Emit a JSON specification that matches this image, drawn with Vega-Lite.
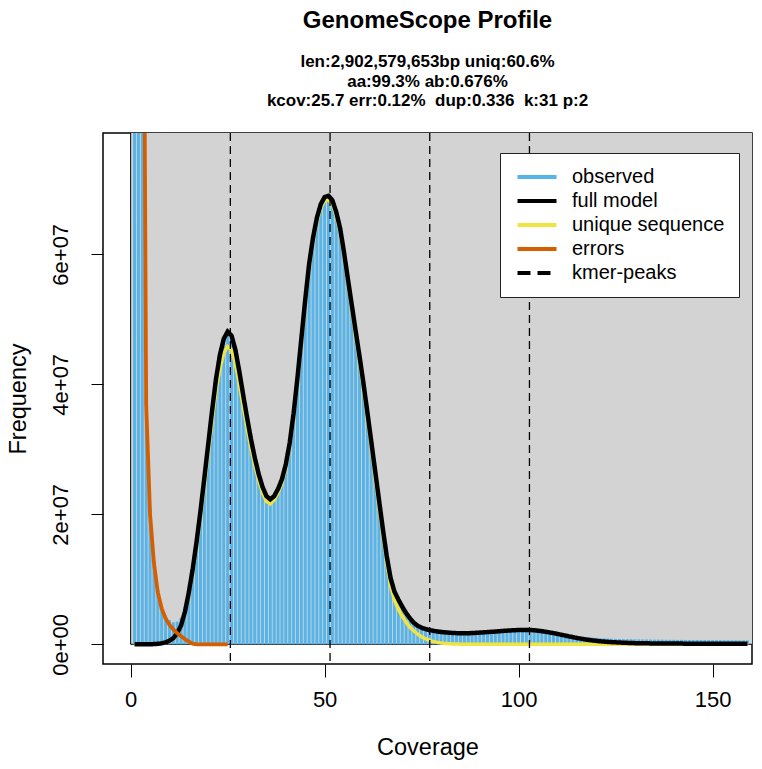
{
  "$schema": "https://vega.github.io/schema/vega-lite/v6.json",
  "width": 649,
  "height": 531,
  "autosize": {"type": "none"},
  "padding": {"left": 103, "top": 133, "right": 10, "bottom": 105},
  "background": "white",
  "config": {
    "font": "Liberation Sans",
    "view": {"stroke": "black", "strokeWidth": 1.5}
  },
  "title": {
    "text": "GenomeScope Profile",
    "subtitle": ["len:2,902,579,653bp uniq:60.6%", "aa:99.3% ab:0.676%", "kcov:25.7 err:0.12%\u00a0 dup:0.336\u00a0 k:31 p:2"],
    "anchor": "middle",
    "font": "Liberation Sans",
    "fontSize": 24,
    "fontWeight": "bold",
    "color": "black",
    "subtitleFont": "Liberation Sans",
    "subtitleFontSize": 17,
    "subtitleFontWeight": "bold",
    "subtitleColor": "black",
    "subtitleLineHeight": 19.5,
    "subtitlePadding": 21,
    "offset": 23
  },
  "datasets": {
    "kmers": [
      {"x": 1, "observed": 1500e6, "full model": 0, "unique sequence": 0, "errors": 1200e6},
      {"x": 2, "observed": 700e6, "full model": 0, "unique sequence": 0, "errors": 600e6},
      {"x": 3, "observed": 160e6, "full model": 0, "unique sequence": 0, "errors": 151e6},
      {"x": 4, "observed": 38e6, "full model": 0.005e6, "unique sequence": 0.005e6, "errors": 37e6},
      {"x": 5, "observed": 21e6, "full model": 0.01e6, "unique sequence": 0.01e6, "errors": 20e6},
      {"x": 6, "observed": 13e6, "full model": 0.03e6, "unique sequence": 0.03e6, "errors": 12.5e6},
      {"x": 7, "observed": 8.3e6, "full model": 0.07e6, "unique sequence": 0.07e6, "errors": 8e6},
      {"x": 8, "observed": 5.7e6, "full model": 0.15e6, "unique sequence": 0.14e6, "errors": 5.5e6},
      {"x": 9, "observed": 4.4e6, "full model": 0.3e6, "unique sequence": 0.28e6, "errors": 4e6},
      {"x": 10, "observed": 3.7e6, "full model": 0.55e6, "unique sequence": 0.53e6, "errors": 3e6},
      {"x": 11, "observed": 3.4e6, "full model": 0.95e6, "unique sequence": 0.9e6, "errors": 2.3e6},
      {"x": 12, "observed": 3.5e6, "full model": 1.7e6, "unique sequence": 1.6e6, "errors": 1.7e6},
      {"x": 13, "observed": 4.1e6, "full model": 2.9e6, "unique sequence": 2.75e6, "errors": 1.25e6},
      {"x": 14, "observed": 5.8e6, "full model": 5.0e6, "unique sequence": 4.7e6, "errors": 0.8e6},
      {"x": 15, "observed": 8.5e6, "full model": 8.0e6, "unique sequence": 7.6e6, "errors": 0.4e6},
      {"x": 16, "observed": 11.8e6, "full model": 11.6e6, "unique sequence": 11.0e6, "errors": 0.08e6},
      {"x": 17, "observed": 15.9e6, "full model": 15.8e6, "unique sequence": 15.0e6, "errors": 0},
      {"x": 18, "observed": 20.6e6, "full model": 20.5e6, "unique sequence": 19.5e6, "errors": 0},
      {"x": 19, "observed": 25.5e6, "full model": 25.6e6, "unique sequence": 24.4e6, "errors": 0},
      {"x": 20, "observed": 30.7e6, "full model": 30.8e6, "unique sequence": 29.4e6, "errors": 0},
      {"x": 21, "observed": 36.1e6, "full model": 36.0e6, "unique sequence": 34.4e6, "errors": 0},
      {"x": 22, "observed": 40.9e6, "full model": 40.8e6, "unique sequence": 39.0e6, "errors": 0},
      {"x": 23, "observed": 44.4e6, "full model": 44.5e6, "unique sequence": 42.4e6, "errors": 0},
      {"x": 24, "observed": 47.1e6, "full model": 47.0e6, "unique sequence": 44.8e6, "errors": 0},
      {"x": 25, "observed": 48.0e6, "full model": 48.1e6, "unique sequence": 45.8e6, "errors": 0},
      {"x": 26, "observed": 47.6e6, "full model": 47.5e6, "unique sequence": 45.3e6},
      {"x": 27, "observed": 45.2e6, "full model": 45.3e6, "unique sequence": 43.2e6},
      {"x": 28, "observed": 42.1e6, "full model": 42.0e6, "unique sequence": 40.0e6},
      {"x": 29, "observed": 38.3e6, "full model": 38.4e6, "unique sequence": 36.6e6},
      {"x": 30, "observed": 35.0e6, "full model": 34.9e6, "unique sequence": 33.3e6},
      {"x": 31, "observed": 31.5e6, "full model": 31.6e6, "unique sequence": 30.2e6},
      {"x": 32, "observed": 28.8e6, "full model": 28.7e6, "unique sequence": 27.5e6},
      {"x": 33, "observed": 26.1e6, "full model": 26.2e6, "unique sequence": 25.2e6},
      {"x": 34, "observed": 24.3e6, "full model": 24.2e6, "unique sequence": 23.3e6},
      {"x": 35, "observed": 22.7e6, "full model": 22.8e6, "unique sequence": 22.0e6},
      {"x": 36, "observed": 22.4e6, "full model": 22.3e6, "unique sequence": 21.6e6},
      {"x": 37, "observed": 22.7e6, "full model": 22.8e6, "unique sequence": 22.2e6},
      {"x": 38, "observed": 24.0e6, "full model": 23.9e6, "unique sequence": 23.3e6},
      {"x": 39, "observed": 25.3e6, "full model": 25.4e6, "unique sequence": 24.8e6},
      {"x": 40, "observed": 27.8e6, "full model": 27.7e6, "unique sequence": 27.1e6},
      {"x": 41, "observed": 30.9e6, "full model": 31.0e6, "unique sequence": 30.4e6},
      {"x": 42, "observed": 35.6e6, "full model": 35.5e6, "unique sequence": 34.9e6},
      {"x": 43, "observed": 40.9e6, "full model": 41.0e6, "unique sequence": 40.4e6},
      {"x": 44, "observed": 47.1e6, "full model": 47.0e6, "unique sequence": 46.4e6},
      {"x": 45, "observed": 52.9e6, "full model": 53.0e6, "unique sequence": 52.4e6},
      {"x": 46, "observed": 58.6e6, "full model": 58.5e6, "unique sequence": 57.9e6},
      {"x": 47, "observed": 62.4e6, "full model": 62.5e6, "unique sequence": 61.9e6},
      {"x": 48, "observed": 65.7e6, "full model": 65.6e6, "unique sequence": 65.0e6},
      {"x": 49, "observed": 67.6e6, "full model": 67.7e6, "unique sequence": 67.1e6},
      {"x": 50, "observed": 68.9e6, "full model": 68.8e6, "unique sequence": 68.2e6},
      {"x": 51, "observed": 68.9e6, "full model": 69.0e6, "unique sequence": 68.4e6},
      {"x": 52, "observed": 68.4e6, "full model": 68.3e6, "unique sequence": 67.7e6},
      {"x": 53, "observed": 66.4e6, "full model": 66.5e6, "unique sequence": 65.9e6},
      {"x": 54, "observed": 64.1e6, "full model": 64.0e6, "unique sequence": 63.4e6},
      {"x": 55, "observed": 60.2e6, "full model": 60.3e6, "unique sequence": 59.7e6},
      {"x": 56, "observed": 56.3e6, "full model": 56.2e6, "unique sequence": 55.6e6},
      {"x": 57, "observed": 52.1e6, "full model": 52.2e6, "unique sequence": 51.5e6},
      {"x": 58, "observed": 48.3e6, "full model": 48.2e6, "unique sequence": 47.4e6},
      {"x": 59, "observed": 44.2e6, "full model": 44.3e6, "unique sequence": 43.5e6},
      {"x": 60, "observed": 40.3e6, "full model": 40.2e6, "unique sequence": 39.3e6},
      {"x": 61, "observed": 35.7e6, "full model": 35.8e6, "unique sequence": 34.9e6},
      {"x": 62, "observed": 31.4e6, "full model": 31.3e6, "unique sequence": 30.4e6},
      {"x": 63, "observed": 26.7e6, "full model": 26.8e6, "unique sequence": 25.8e6},
      {"x": 64, "observed": 22.4e6, "full model": 22.3e6, "unique sequence": 21.3e6},
      {"x": 65, "observed": 17.7e6, "full model": 17.8e6, "unique sequence": 16.8e6},
      {"x": 66, "observed": 13.7e6, "full model": 13.6e6, "unique sequence": 12.6e6},
      {"x": 67, "observed": 10.1e6, "full model": 10.2e6, "unique sequence": 9.0e6},
      {"x": 68, "observed": 8.2e6, "full model": 8.1e6, "unique sequence": 6.8e6},
      {"x": 69, "observed": 6.8e6, "full model": 6.9e6, "unique sequence": 5.4e6},
      {"x": 70, "observed": 5.9e6, "full model": 5.8e6, "unique sequence": 4.3e6},
      {"x": 71, "observed": 4.7e6, "full model": 4.8e6, "unique sequence": 3.4e6},
      {"x": 72, "observed": 4.1e6, "full model": 4.0e6, "unique sequence": 2.6e6},
      {"x": 73, "observed": 3.3e6, "full model": 3.3e6, "unique sequence": 2.05e6},
      {"x": 74, "observed": 2.9e6, "full model": 2.85e6, "unique sequence": 1.55e6},
      {"x": 75, "observed": 2.6e6, "full model": 2.55e6, "unique sequence": 1.15e6},
      {"x": 76, "observed": 2.4e6, "full model": 2.35e6, "unique sequence": 0.85e6},
      {"x": 77, "observed": 2.3e6, "full model": 2.2e6, "unique sequence": 0.62e6},
      {"x": 78, "observed": 2.2e6, "full model": 2.08e6, "unique sequence": 0.44e6},
      {"x": 79, "observed": 2.1e6, "full model": 1.98e6, "unique sequence": 0.3e6},
      {"x": 80, "observed": 2.0e6, "full model": 1.9e6, "unique sequence": 0.2e6},
      {"x": 81, "observed": 1.95e6, "full model": 1.84e6, "unique sequence": 0.14e6},
      {"x": 82, "observed": 1.9e6, "full model": 1.79e6, "unique sequence": 0.09e6},
      {"x": 83, "observed": 1.85e6, "full model": 1.75e6, "unique sequence": 0.06e6},
      {"x": 84, "observed": 1.82e6, "full model": 1.72e6, "unique sequence": 0.04e6},
      {"x": 85, "observed": 1.8e6, "full model": 1.7e6, "unique sequence": 0.025e6},
      {"x": 86, "observed": 1.8e6, "full model": 1.7e6, "unique sequence": 0.015e6},
      {"x": 87, "observed": 1.8e6, "full model": 1.71e6, "unique sequence": 0.01e6},
      {"x": 88, "observed": 1.82e6, "full model": 1.73e6, "unique sequence": 0.005e6},
      {"x": 89, "observed": 1.83e6, "full model": 1.76e6, "unique sequence": 0},
      {"x": 90, "observed": 1.86e6, "full model": 1.8e6, "unique sequence": 0},
      {"x": 91, "observed": 1.88e6, "full model": 1.84e6, "unique sequence": 0},
      {"x": 92, "observed": 1.9e6, "full model": 1.88e6, "unique sequence": 0},
      {"x": 93, "observed": 1.93e6, "full model": 1.92e6, "unique sequence": 0},
      {"x": 94, "observed": 1.96e6, "full model": 1.96e6, "unique sequence": 0},
      {"x": 95, "observed": 1.99e6, "full model": 2.01e6, "unique sequence": 0},
      {"x": 96, "observed": 2.02e6, "full model": 2.06e6, "unique sequence": 0},
      {"x": 97, "observed": 2.05e6, "full model": 2.1e6, "unique sequence": 0},
      {"x": 98, "observed": 2.07e6, "full model": 2.14e6, "unique sequence": 0},
      {"x": 99, "observed": 2.08e6, "full model": 2.17e6, "unique sequence": 0},
      {"x": 100, "observed": 2.1e6, "full model": 2.2e6, "unique sequence": 0},
      {"x": 101, "observed": 2.1e6, "full model": 2.21e6, "unique sequence": 0},
      {"x": 102, "observed": 2.1e6, "full model": 2.22e6, "unique sequence": 0},
      {"x": 103, "observed": 2.08e6, "full model": 2.2e6, "unique sequence": 0},
      {"x": 104, "observed": 2.05e6, "full model": 2.16e6, "unique sequence": 0},
      {"x": 105, "observed": 2.0e6, "full model": 2.1e6, "unique sequence": 0},
      {"x": 106, "observed": 1.95e6, "full model": 2.02e6, "unique sequence": 0},
      {"x": 107, "observed": 1.88e6, "full model": 1.93e6, "unique sequence": 0},
      {"x": 108, "observed": 1.81e6, "full model": 1.83e6, "unique sequence": 0},
      {"x": 109, "observed": 1.74e6, "full model": 1.72e6, "unique sequence": 0},
      {"x": 110, "observed": 1.66e6, "full model": 1.6e6, "unique sequence": 0},
      {"x": 111, "observed": 1.58e6, "full model": 1.47e6, "unique sequence": 0},
      {"x": 112, "observed": 1.5e6, "full model": 1.35e6, "unique sequence": 0},
      {"x": 113, "observed": 1.42e6, "full model": 1.22e6, "unique sequence": 0},
      {"x": 114, "observed": 1.34e6, "full model": 1.1e6, "unique sequence": 0},
      {"x": 115, "observed": 1.27e6, "full model": 0.98e6, "unique sequence": 0},
      {"x": 116, "observed": 1.2e6, "full model": 0.87e6, "unique sequence": 0},
      {"x": 117, "observed": 1.14e6, "full model": 0.77e6, "unique sequence": 0},
      {"x": 118, "observed": 1.08e6, "full model": 0.68e6, "unique sequence": 0},
      {"x": 119, "observed": 1.03e6, "full model": 0.6e6, "unique sequence": 0},
      {"x": 120, "observed": 0.99e6, "full model": 0.53e6, "unique sequence": 0},
      {"x": 121, "observed": 0.95e6, "full model": 0.47e6, "unique sequence": 0},
      {"x": 122, "observed": 0.92e6, "full model": 0.42e6, "unique sequence": 0},
      {"x": 123, "observed": 0.89e6, "full model": 0.37e6, "unique sequence": 0},
      {"x": 124, "observed": 0.86e6, "full model": 0.33e6, "unique sequence": 0},
      {"x": 125, "observed": 0.84e6, "full model": 0.3e6, "unique sequence": 0},
      {"x": 126, "observed": 0.82e6, "full model": 0.27e6, "unique sequence": 0},
      {"x": 127, "observed": 0.8e6, "full model": 0.24e6, "unique sequence": 0},
      {"x": 128, "observed": 0.79e6, "full model": 0.22e6, "unique sequence": 0},
      {"x": 129, "observed": 0.78e6, "full model": 0.2e6, "unique sequence": 0},
      {"x": 130, "observed": 0.77e6, "full model": 0.18e6, "unique sequence": 0},
      {"x": 131, "observed": 0.76e6, "full model": 0.17e6, "unique sequence": 0},
      {"x": 132, "observed": 0.75e6, "full model": 0.16e6, "unique sequence": 0},
      {"x": 133, "observed": 0.74e6, "full model": 0.15e6, "unique sequence": 0},
      {"x": 134, "observed": 0.73e6, "full model": 0.14e6, "unique sequence": 0},
      {"x": 135, "observed": 0.72e6, "full model": 0.14e6, "unique sequence": 0},
      {"x": 136, "observed": 0.72e6, "full model": 0.13e6, "unique sequence": 0},
      {"x": 137, "observed": 0.71e6, "full model": 0.13e6, "unique sequence": 0},
      {"x": 138, "observed": 0.7e6, "full model": 0.12e6, "unique sequence": 0},
      {"x": 139, "observed": 0.7e6, "full model": 0.12e6, "unique sequence": 0},
      {"x": 140, "observed": 0.69e6, "full model": 0.11e6, "unique sequence": 0},
      {"x": 141, "observed": 0.68e6, "full model": 0.11e6, "unique sequence": 0},
      {"x": 142, "observed": 0.68e6, "full model": 0.11e6, "unique sequence": 0},
      {"x": 143, "observed": 0.67e6, "full model": 0.1e6, "unique sequence": 0},
      {"x": 144, "observed": 0.67e6, "full model": 0.1e6, "unique sequence": 0},
      {"x": 145, "observed": 0.66e6, "full model": 0.1e6, "unique sequence": 0},
      {"x": 146, "observed": 0.66e6, "full model": 0.1e6, "unique sequence": 0},
      {"x": 147, "observed": 0.65e6, "full model": 0.09e6, "unique sequence": 0},
      {"x": 148, "observed": 0.65e6, "full model": 0.09e6, "unique sequence": 0},
      {"x": 149, "observed": 0.64e6, "full model": 0.09e6, "unique sequence": 0},
      {"x": 150, "observed": 0.64e6, "full model": 0.09e6, "unique sequence": 0},
      {"x": 151, "observed": 0.63e6, "full model": 0.09e6, "unique sequence": 0},
      {"x": 152, "observed": 0.63e6, "full model": 0.08e6, "unique sequence": 0},
      {"x": 153, "observed": 0.62e6, "full model": 0.08e6, "unique sequence": 0},
      {"x": 154, "observed": 0.62e6, "full model": 0.08e6, "unique sequence": 0},
      {"x": 155, "observed": 0.61e6, "full model": 0.08e6, "unique sequence": 0},
      {"x": 156, "observed": 0.61e6, "full model": 0.08e6, "unique sequence": 0},
      {"x": 157, "observed": 0.6e6, "full model": 0.08e6, "unique sequence": 0},
      {"x": 158, "observed": 0.6e6, "full model": 0.08e6, "unique sequence": 0},
      {"x": 159, "observed": 0.6e6, "full model": 0.08e6, "unique sequence": 0}
    ],
    "peaks": [
      {"x": 25.7, "series": "kmer-peaks"},
      {"x": 51.4, "series": "kmer-peaks"},
      {"x": 77.1, "series": "kmer-peaks"},
      {"x": 102.8, "series": "kmer-peaks"}
    ]
  },
  "layer": [
    {
      "data": {"values": [{}]},
      "mark": {"type": "rect", "fill": "#D3D3D3", "stroke": "black", "strokeWidth": 1, "clip": true},
      "encoding": {
        "x": {"datum": 0, "type": "quantitative", "scale": {"domain": [-5.84, 158.88], "nice": false, "zero": false},
          "axis": {"values": [0, 50, 100, 150], "title": "Coverage", "domain": false, "grid": false, "tickColor": "black", "tickSize": 13, "tickWidth": 1,
            "labelFont": "Liberation Sans", "labelFontSize": 22, "labelColor": "black", "labelPadding": 12,
            "titleFont": "Liberation Sans", "titleFontSize": 23.5, "titleFontWeight": "normal", "titleColor": "black", "titlePadding": 25}},
        "x2": {"datum": 175},
        "y": {"datum": 0, "type": "quantitative", "scale": {"domain": [-3.03e6, 7.866e7], "nice": false, "zero": false},
          "axis": {"values": [0, 2e7, 4e7, 6e7], "title": "Frequency", "domain": false, "grid": false, "tickColor": "black", "tickSize": 12, "tickWidth": 1,
            "labelExpr": "replace(format(datum.value, '.0e'), 'e+', 'e+0')",
            "labelAngle": -90, "labelAlign": "center", "labelBaseline": "alphabetic",
            "labelFont": "Liberation Sans", "labelFontSize": 22, "labelColor": "black", "labelPadding": 24,
            "titleFont": "Liberation Sans", "titleFontSize": 23.5, "titleFontWeight": "normal", "titleColor": "black", "titlePadding": 19}},
        "y2": {"datum": 9e8}
      }
    },
    {
      "data": {"name": "kmers"},
      "mark": {"type": "bar", "width": 3, "color": "#56B4E9", "clip": true},
      "encoding": {
        "x": {"field": "x", "type": "quantitative", "scale": {"domain": [-5.84, 158.88], "nice": false, "zero": false}},
        "y": {"field": "observed", "type": "quantitative", "scale": {"domain": [-3.03e6, 7.866e7], "nice": false, "zero": false}},
        "y2": {"datum": 0}
      }
    },
    {
      "data": {"name": "kmers"},
      "transform": [{"fold": ["unique sequence"], "as": ["series", "value"]}],
      "mark": {"type": "line", "strokeWidth": 3.5, "clip": true},
      "encoding": {
        "x": {"field": "x", "type": "quantitative", "scale": {"domain": [-5.84, 158.88], "nice": false, "zero": false}},
        "y": {"field": "value", "type": "quantitative", "scale": {"domain": [-3.03e6, 7.866e7], "nice": false, "zero": false}},
        "color": {"field": "series", "type": "nominal",
          "scale": {"domain": ["observed", "full model", "unique sequence", "errors", "kmer-peaks"], "range": ["#56B4E9", "black", "#F0E442", "#D55E00", "black"]},
          "legend": {"title": null, "orient": "none", "legendX": 397, "legendY": 20, "symbolType": "M-3,0H3", "symbolSize": 169, "symbolStrokeWidth": 4,
            "symbolOffset": 13, "labelOffset": 25, "labelFont": "Liberation Sans", "labelFontSize": 20, "labelColor": "black", "labelLimit": 400,
            "fillColor": "white", "strokeColor": "#222222", "padding": 14, "rowPadding": 4}},
        "strokeDash": {"field": "series", "type": "nominal",
          "scale": {"domain": ["observed", "full model", "unique sequence", "errors", "kmer-peaks"], "range": [[1, 0], [1, 0], [1, 0], [1, 0], [13, 7]]},
          "legend": {"title": null, "orient": "none", "legendX": 397, "legendY": 20, "symbolType": "M-3,0H3", "symbolSize": 169, "symbolStrokeWidth": 4,
            "symbolOffset": 13, "labelOffset": 25, "labelFont": "Liberation Sans", "labelFontSize": 20, "labelColor": "black", "labelLimit": 400,
            "fillColor": "white", "strokeColor": "#222222", "padding": 14, "rowPadding": 4}}
      }
    },
    {
      "data": {"name": "kmers"},
      "transform": [{"fold": ["full model"], "as": ["series", "value"]}],
      "mark": {"type": "line", "strokeWidth": 4.5, "clip": true},
      "encoding": {
        "x": {"field": "x", "type": "quantitative", "scale": {"domain": [-5.84, 158.88], "nice": false, "zero": false}},
        "y": {"field": "value", "type": "quantitative", "scale": {"domain": [-3.03e6, 7.866e7], "nice": false, "zero": false}},
        "color": {"field": "series", "type": "nominal"},
        "strokeDash": {"field": "series", "type": "nominal"}
      }
    },
    {
      "data": {"name": "kmers"},
      "transform": [{"fold": ["errors"], "as": ["series", "value"]}, {"filter": {"field": "value", "valid": true}}],
      "mark": {"type": "line", "strokeWidth": 3.8, "clip": true},
      "encoding": {
        "x": {"field": "x", "type": "quantitative", "scale": {"domain": [-5.84, 158.88], "nice": false, "zero": false}},
        "y": {"field": "value", "type": "quantitative", "scale": {"domain": [-3.03e6, 7.866e7], "nice": false, "zero": false}},
        "color": {"field": "series", "type": "nominal"},
        "strokeDash": {"field": "series", "type": "nominal"}
      }
    },
    {
      "data": {"name": "peaks"},
      "mark": {"type": "rule", "strokeWidth": 1.3, "strokeDash": [8, 5]},
      "encoding": {
        "x": {"field": "x", "type": "quantitative", "scale": {"domain": [-5.84, 158.88], "nice": false, "zero": false}},
        "color": {"field": "series", "type": "nominal"}
      }
    }
  ]
}
